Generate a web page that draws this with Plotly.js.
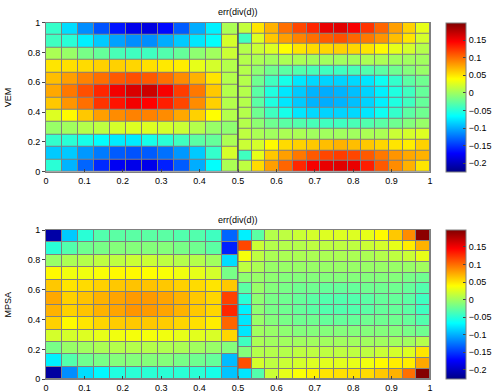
<!DOCTYPE html>
<html>
<head>
<meta charset="utf-8">
<script src="https://cdn.plot.ly/plotly-3.0.1.min.js"></script>
<style>
  html, body { margin: 0; padding: 0; background: #fff; }
  #chart { width: 498px; height: 392px; }
</style>
</head>
<body>
<div id="chart"></div>
<script>
// error of div(d), rows listed from top (y = 1) to bottom (y = 0)
// left block: 12 x 12 cells on [0, 0.5], right block: 14 x 14 cells on [0.5, 1]
const vemLeft = [
  [-0.045, -0.081, -0.114, -0.139, -0.165, -0.182, -0.187, -0.170, -0.135, -0.101, -0.073, 0.004],
  [-0.041, -0.050, -0.073, -0.089, -0.106, -0.114, -0.114, -0.101, -0.089, -0.077, -0.066, 0.021],
  [0.004, -0.004, -0.017, -0.025, -0.037, -0.041, -0.041, -0.033, -0.025, -0.008, 0.000, 0.017],
  [0.050, 0.052, 0.054, 0.058, 0.058, 0.056, 0.052, 0.048, 0.046, 0.029, 0.021, 0.008],
  [0.066, 0.079, 0.091, 0.099, 0.108, 0.112, 0.108, 0.099, 0.087, 0.071, 0.050, 0.008],
  [0.075, 0.095, 0.112, 0.129, 0.150, 0.161, 0.166, 0.148, 0.120, 0.095, 0.062, 0.008],
  [0.062, 0.083, 0.099, 0.124, 0.137, 0.150, 0.145, 0.133, 0.116, 0.087, 0.058, 0.008],
  [0.025, 0.041, 0.062, 0.079, 0.087, 0.091, 0.091, 0.087, 0.075, 0.058, 0.039, 0.008],
  [-0.004, 0.000, 0.008, 0.012, 0.021, 0.025, 0.025, 0.021, 0.017, 0.008, -0.004, -0.008],
  [-0.046, -0.050, -0.058, -0.066, -0.075, -0.075, -0.058, -0.050, -0.041, -0.029, -0.025, 0.004],
  [-0.089, -0.089, -0.110, -0.122, -0.135, -0.139, -0.135, -0.126, -0.110, -0.089, -0.046, 0.021],
  [-0.050, -0.098, -0.131, -0.156, -0.178, -0.182, -0.182, -0.160, -0.135, -0.101, -0.066, 0.004]
];
const vemRight = [
  [0.014, 0.050, 0.071, 0.099, 0.116, 0.129, 0.154, 0.158, 0.148, 0.124, 0.103, 0.079, 0.058, 0.029],
  [-0.041, 0.025, 0.062, 0.079, 0.091, 0.099, 0.108, 0.112, 0.103, 0.095, 0.083, 0.066, 0.050, 0.021],
  [0.008, 0.017, 0.025, 0.039, 0.050, 0.054, 0.056, 0.058, 0.056, 0.050, 0.041, 0.029, 0.021, 0.008],
  [0.008, 0.004, 0.000, 0.004, 0.004, 0.000, 0.000, 0.000, 0.000, 0.004, 0.004, 0.000, 0.000, 0.000],
  [0.008, -0.008, -0.021, -0.029, -0.033, -0.037, -0.041, -0.041, -0.037, -0.033, -0.029, -0.021, -0.012, -0.004],
  [0.008, -0.021, -0.041, -0.058, -0.077, -0.083, -0.085, -0.085, -0.083, -0.077, -0.062, -0.046, -0.029, -0.021],
  [0.008, -0.029, -0.054, -0.077, -0.089, -0.098, -0.101, -0.098, -0.093, -0.085, -0.073, -0.054, -0.041, -0.025],
  [0.008, -0.029, -0.054, -0.077, -0.089, -0.098, -0.101, -0.098, -0.093, -0.085, -0.073, -0.054, -0.041, -0.025],
  [0.008, -0.021, -0.041, -0.058, -0.077, -0.083, -0.085, -0.085, -0.083, -0.077, -0.062, -0.046, -0.029, -0.021],
  [0.008, -0.008, -0.021, -0.029, -0.033, -0.037, -0.041, -0.041, -0.037, -0.033, -0.029, -0.021, -0.012, -0.004],
  [0.012, 0.004, 0.000, 0.004, 0.004, 0.000, 0.000, 0.000, 0.000, 0.004, 0.004, 0.017, 0.021, 0.025],
  [0.017, 0.021, 0.041, 0.054, 0.058, 0.062, 0.066, 0.071, 0.066, 0.062, 0.056, 0.050, 0.046, 0.058],
  [-0.041, 0.029, 0.062, 0.079, 0.095, 0.108, 0.116, 0.120, 0.116, 0.108, 0.095, 0.083, 0.075, 0.071],
  [0.012, 0.054, 0.079, 0.103, 0.129, 0.148, 0.154, 0.158, 0.154, 0.133, 0.108, 0.087, 0.071, 0.050]
];
const mpsaLeft = [
  [-0.211, -0.089, -0.050, -0.033, -0.029, -0.029, -0.029, -0.029, -0.033, -0.033, -0.041, -0.131],
  [-0.050, -0.033, -0.021, -0.017, -0.012, -0.012, -0.012, -0.012, -0.017, -0.021, -0.029, -0.160],
  [-0.004, 0.004, 0.008, 0.012, 0.012, 0.017, 0.017, 0.012, 0.008, 0.008, 0.000, -0.081],
  [0.041, 0.033, 0.033, 0.037, 0.041, 0.041, 0.039, 0.037, 0.033, 0.029, 0.021, -0.017],
  [0.062, 0.050, 0.054, 0.058, 0.062, 0.064, 0.064, 0.062, 0.058, 0.054, 0.050, 0.062],
  [0.075, 0.058, 0.064, 0.071, 0.077, 0.081, 0.081, 0.077, 0.071, 0.062, 0.056, 0.118],
  [0.071, 0.058, 0.064, 0.071, 0.077, 0.083, 0.081, 0.077, 0.071, 0.062, 0.056, 0.129],
  [0.058, 0.041, 0.050, 0.056, 0.060, 0.062, 0.062, 0.060, 0.056, 0.052, 0.046, 0.103],
  [0.021, 0.021, 0.025, 0.029, 0.033, 0.035, 0.035, 0.033, 0.029, 0.027, 0.023, 0.056],
  [-0.017, -0.004, 0.000, 0.004, 0.008, 0.008, 0.008, 0.006, 0.004, 0.000, -0.004, -0.012],
  [-0.073, -0.033, -0.021, -0.017, -0.012, -0.012, -0.012, -0.012, -0.017, -0.021, -0.025, -0.095],
  [-0.214, -0.114, -0.081, -0.070, -0.054, -0.050, -0.050, -0.050, -0.050, -0.050, -0.058, -0.091]
];
const mpsaRight = [
  [-0.073, -0.029, 0.008, 0.012, 0.017, 0.021, 0.025, 0.025, 0.025, 0.029, 0.041, 0.062, 0.087, 0.193],
  [0.116, 0.017, 0.008, 0.008, 0.008, 0.012, 0.012, 0.012, 0.012, 0.017, 0.021, 0.029, 0.046, 0.071],
  [0.035, 0.012, 0.004, 0.004, 0.004, 0.004, 0.004, 0.004, 0.004, 0.004, 0.008, 0.012, 0.017, 0.029],
  [0.012, 0.004, -0.004, -0.004, -0.004, -0.004, -0.004, -0.004, -0.004, -0.004, -0.004, -0.004, -0.004, 0.000],
  [-0.008, -0.004, -0.008, -0.012, -0.012, -0.012, -0.012, -0.012, -0.012, -0.012, -0.012, -0.012, -0.017, -0.021],
  [-0.029, -0.004, -0.012, -0.017, -0.021, -0.021, -0.025, -0.025, -0.025, -0.021, -0.021, -0.021, -0.025, -0.033],
  [-0.050, -0.008, -0.017, -0.021, -0.025, -0.029, -0.033, -0.033, -0.033, -0.029, -0.025, -0.025, -0.029, -0.041],
  [-0.073, -0.008, -0.017, -0.021, -0.025, -0.029, -0.033, -0.033, -0.033, -0.029, -0.025, -0.025, -0.029, -0.041],
  [-0.077, -0.004, -0.012, -0.017, -0.021, -0.021, -0.025, -0.025, -0.025, -0.021, -0.021, -0.021, -0.025, -0.033],
  [-0.077, 0.000, -0.004, -0.008, -0.012, -0.012, -0.012, -0.012, -0.012, -0.012, -0.012, -0.012, -0.017, -0.021],
  [-0.041, 0.004, 0.000, 0.000, 0.000, 0.000, 0.000, 0.000, 0.000, 0.000, 0.000, 0.000, 0.000, 0.008],
  [-0.012, 0.008, 0.008, 0.008, 0.012, 0.012, 0.012, 0.012, 0.012, 0.012, 0.017, 0.021, 0.025, 0.050],
  [0.112, 0.021, 0.012, 0.017, 0.021, 0.025, 0.027, 0.027, 0.029, 0.033, 0.041, 0.046, 0.046, 0.075],
  [-0.077, -0.033, 0.017, 0.029, 0.037, 0.044, 0.050, 0.052, 0.052, 0.054, 0.062, 0.071, 0.099, 0.196]
];

const rowLabels = ["VEM", "MPSA"];
const plotTitle = "err(div(d))";
const cbTicks = [-0.2, -0.15, -0.1, -0.05, 0, 0.05, 0.1, 0.15];
const cmin = -0.226, cmax = 0.198;

// matlab jet
const jet = [
  [0, "rgb(0,0,132)"], [0.125, "rgb(0,0,255)"], [0.375, "rgb(0,255,255)"],
  [0.625, "rgb(255,255,0)"], [0.875, "rgb(255,0,0)"], [1, "rgb(128,0,0)"]
];

const font = { family: "Liberation Sans, Arial, sans-serif", size: 9, color: "#000" };
const W = 498, H = 392;
const px2x = p => (p - 46) / 384;
const px2y = p => 1 - p / H;

const edges = (n, a, b) => Array.from({ length: n + 1 }, (_, i) => a + (b - a) * i / n);

const block = (rows, x0, x1, xa, ya, showBar, cbY) => ({
  type: "heatmap",
  x: edges(rows[0].length, x0, x1),
  y: edges(rows.length, 0, 1),
  z: rows.slice().reverse(),
  xaxis: xa, yaxis: ya,
  colorscale: jet, zmin: cmin, zmax: cmax,
  xgap: 1, ygap: 1,
  hoverinfo: "skip",
  showscale: showBar,
  colorbar: {
    x: px2x(446), xanchor: "left", xpad: 0, ypad: 0,
    y: cbY, yanchor: "middle",
    lenmode: "pixels", len: 149,
    thicknessmode: "pixels", thickness: 20,
    outlinecolor: "#808080", outlinewidth: 1,
    tickvals: cbTicks, ticks: "inside", ticklen: 3, tickcolor: "#444",
    tickfont: font
  }
});

const data = [
  block(vemLeft, 0, 0.5, "x", "y", true, px2y(97.8)),
  block(vemRight, 0.5, 1, "x", "y", false, px2y(97.8)),
  block(mpsaLeft, 0, 0.5, "x2", "y2", true, px2y(304.5)),
  block(mpsaRight, 0.5, 1, "x2", "y2", false, px2y(304.5))
];

const xax = anchor => ({
  anchor, domain: [0, 1], range: [0, 1], dtick: 0.1, tick0: 0,
  showline: true, mirror: true, linecolor: "#808080", linewidth: 1,
  ticks: "inside", ticklen: 3, tickcolor: "#444",
  showgrid: false, zeroline: false, tickfont: font, fixedrange: true
});
const yax = (anchor, top, bottom) => ({
  anchor, domain: [px2y(bottom), px2y(top)], range: [0, 1], dtick: 0.2, tick0: 0,
  showline: true, mirror: true, linecolor: "#808080", linewidth: 1,
  ticks: "outside", ticklen: 3, tickcolor: "#444",
  showgrid: false, zeroline: false, tickfont: font, fixedrange: true
});

const ann = (text, x, y, angle) => ({
  text, xref: "paper", yref: "paper", x, y, showarrow: false,
  xanchor: "center", yanchor: "middle", textangle: angle || 0, font
});

const layout = {
  width: W, height: H,
  margin: { l: 46, r: 68, t: 0, b: 0 },
  paper_bgcolor: "#fff", plot_bgcolor: "#808080",
  showlegend: false,
  xaxis: xax("y"), yaxis: yax("x", 22.7, 171.7),
  xaxis2: xax("y2"), yaxis2: yax("x2", 230, 379.3),
  annotations: [
    ann(plotTitle, 0.5, px2y(12.5)),
    ann(plotTitle, 0.5, px2y(219.5)),
    ann(rowLabels[0], px2x(8), px2y(97.2), -90),
    ann(rowLabels[1], px2x(8), px2y(304.6), -90)
  ],
  shapes: [
    { type: "line", xref: "x", yref: "y", x0: 0.5, x1: 0.5, y0: 0, y1: 1, line: { color: "#555", width: 1.5 } },
    { type: "line", xref: "x2", yref: "y2", x0: 0.5, x1: 0.5, y0: 0, y1: 1, line: { color: "#666", width: 1 } }
  ]
};

Plotly.newPlot("chart", data, layout, { displayModeBar: false, staticPlot: true });
</script>
</body>
</html>
